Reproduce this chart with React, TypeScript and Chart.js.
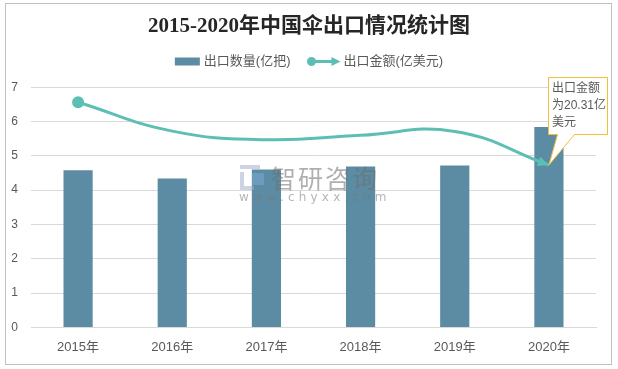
import React, { useEffect, useRef } from 'react';
import { Chart, registerables } from 'chart.js';

Chart.register(...registerables);

const titleText = '2015-2020年中国伞出口情况统计图';
const categories = ['2015年', '2016年', '2017年', '2018年', '2019年', '2020年'];
const quantityLabel = '出口数量(亿把)';
const valueLabel = '出口金额(亿美元)';
const quantity = [4.58, 4.34, 4.6, 4.69, 4.72, 5.84];
const exportValue = [6.56, 5.72, 5.47, 5.6, 5.71, 4.73];
const yMin = 0;
const yMax = 7;
const calloutLines = ['出口金额', '为20.31亿', '美元'];
const watermarkTitle = '智研咨询';
const watermarkUrl = 'www.chyxx.com';

const BAR_COLOR = '#5b8ca4';
const LINE_COLOR = '#5dbfb4';
const TEXT_COLOR = '#595959';
const GRID_COLOR = '#d9d9d9';
const CJK = '"Liberation Sans", "Noto Sans CJK SC", sans-serif';

const framePlugin = {
  id: 'frame',
  beforeDraw(chart: any) {
    const ctx = chart.ctx;
    ctx.save();
    ctx.fillStyle = '#ffffff';
    ctx.fillRect(0, 0, chart.width, chart.height);
    ctx.strokeStyle = '#bfbfbf';
    ctx.lineWidth = 1;
    ctx.strokeRect(5.5, 3.5, 606, 361);
    ctx.restore();
  },
};

const legendPlugin = {
  id: 'customLegend',
  afterDraw(chart: any) {
    const ctx = chart.ctx;
    ctx.save();
    ctx.font = '13px ' + CJK;
    ctx.textBaseline = 'middle';
    ctx.fillStyle = TEXT_COLOR;
    const labels = chart.data.datasets.map((d: any) => d.label);
    const w1 = 25 + 4 + ctx.measureText(labels[0]).width;
    const w2 = 34 + 3 + ctx.measureText(labels[1]).width;
    const gap = 16;
    let x = chart.width / 2 - (w1 + gap + w2) / 2;
    const y = 61.5;
    ctx.fillStyle = BAR_COLOR;
    ctx.fillRect(x, y - 4, 25, 8);
    ctx.fillStyle = TEXT_COLOR;
    ctx.fillText(labels[0], x + 29, y);
    x += w1 + gap;
    ctx.strokeStyle = LINE_COLOR;
    ctx.fillStyle = LINE_COLOR;
    ctx.lineWidth = 3;
    ctx.beginPath();
    ctx.moveTo(x + 5, y);
    ctx.lineTo(x + 27, y);
    ctx.stroke();
    ctx.beginPath();
    ctx.arc(x + 5, y, 4.5, 0, Math.PI * 2);
    ctx.fill();
    ctx.beginPath();
    ctx.moveTo(x + 34, y);
    ctx.lineTo(x + 25, y - 4.5);
    ctx.lineTo(x + 25, y + 4.5);
    ctx.closePath();
    ctx.fill();
    ctx.fillStyle = TEXT_COLOR;
    ctx.fillText(labels[1], x + 37, y);
    ctx.restore();
  },
};

const watermarkPlugin = {
  id: 'watermark',
  afterDatasetsDraw(chart: any) {
    const ctx = chart.ctx;
    ctx.save();
    ctx.fillStyle = 'rgba(160,175,205,0.55)';
    ctx.fillRect(240, 165, 20, 4);
    ctx.fillRect(240, 172, 4, 14);
    ctx.fillRect(240, 186, 14, 4);
    ctx.fillStyle = 'rgba(120,170,215,0.55)';
    ctx.fillRect(252, 173, 12, 12);
    ctx.fillStyle = 'rgba(110,110,110,0.55)';
    ctx.font = '25px "Noto Sans CJK SC", sans-serif';
    ctx.textBaseline = 'middle';
    (ctx as any).letterSpacing = '2px';
    ctx.fillText(watermarkTitle, 271, 178);
    ctx.font = '12px "DejaVu Sans", sans-serif';
    ctx.fillStyle = 'rgba(120,120,120,0.55)';
    (ctx as any).letterSpacing = '4.2px';
    ctx.fillText(watermarkUrl, 239, 198);
    ctx.restore();
  },
};

const calloutPlugin = {
  id: 'callout',
  afterDraw(chart: any) {
    const meta = chart.getDatasetMeta(1);
    const pts = meta.data;
    const last = pts[pts.length - 1];
    const ctx = chart.ctx;
    ctx.save();
    const cpx = last.cp1x !== undefined ? last.cp1x : pts[pts.length - 2].x;
    const cpy = last.cp1y !== undefined ? last.cp1y : pts[pts.length - 2].y;
    let dx = last.x - cpx;
    let dy = last.y - cpy;
    const len = Math.hypot(dx, dy) || 1;
    dx /= len;
    dy /= len;
    const tipX = last.x;
    const tipY = last.y;
    const aL = 11;
    const aW = 5;
    ctx.fillStyle = LINE_COLOR;
    ctx.beginPath();
    ctx.moveTo(tipX, tipY);
    ctx.lineTo(tipX - dx * aL - dy * aW, tipY - dy * aL + dx * aW);
    ctx.lineTo(tipX - dx * aL + dy * aW, tipY - dy * aL - dx * aW);
    ctx.closePath();
    ctx.fill();

    const bx = 548.5;
    const by = 77.5;
    const bw = 59;
    const bh = 57;
    ctx.fillStyle = '#ffffff';
    ctx.strokeStyle = '#f2c037';
    ctx.lineWidth = 1;
    ctx.beginPath();
    ctx.moveTo(bx, by);
    ctx.lineTo(bx + bw, by);
    ctx.lineTo(bx + bw, by + bh);
    ctx.lineTo(bx + 26, by + bh);
    ctx.lineTo(tipX, tipY);
    ctx.lineTo(bx + 9, by + bh);
    ctx.lineTo(bx, by + bh);
    ctx.closePath();
    ctx.fill();
    ctx.stroke();
    ctx.fillStyle = TEXT_COLOR;
    ctx.font = '12px ' + CJK;
    ctx.textBaseline = 'middle';
    calloutLines.forEach((t, i) => {
      ctx.fillText(t, bx + 3.5, by + 11 + i * 17);
    });
    ctx.restore();
  },
};

export default function App() {
  const ref = useRef<HTMLCanvasElement | null>(null);
  useEffect(() => {
    if (!ref.current) return;
    const chart = new Chart(ref.current, {
      type: 'bar',
      data: {
        labels: categories,
        datasets: [
          {
            type: 'bar',
            label: quantityLabel,
            data: quantity,
            backgroundColor: BAR_COLOR,
            barPercentage: 0.31,
            categoryPercentage: 1,
            order: 2,
          },
          {
            type: 'line',
            label: valueLabel,
            data: exportValue,
            borderColor: LINE_COLOR,
            backgroundColor: LINE_COLOR,
            borderWidth: 3,
            tension: 0.45,
            pointRadius: [4.5, 0, 0, 0, 0, 0],
            pointHoverRadius: 0,
            order: 1,
          } as any,
        ],
      },
      options: {
        animation: false,
        responsive: false,
        maintainAspectRatio: false,
        events: [],
        layout: { padding: { left: 0, right: 0, top: 0, bottom: 2 } },
        plugins: {
          legend: { display: false },
          tooltip: { enabled: false },
          title: {
            display: true,
            text: titleText,
            color: '#262626',
            font: { size: 21, weight: 'bold', family: '"Liberation Serif", "Noto Sans CJK SC", serif' },
            padding: { top: 14, bottom: 48 },
          },
        },
        scales: {
          x: {
            offset: true,
            grid: { display: false, drawTicks: false },
            border: { display: true, color: GRID_COLOR },
            ticks: { color: TEXT_COLOR, font: { size: 13, family: CJK }, padding: 12 },
          },
          y: {
            min: yMin,
            max: yMax,
            afterFit: (s: any) => {
              s.width = 31;
            },
            grid: { color: GRID_COLOR, drawTicks: false },
            border: { display: false },
            ticks: { stepSize: 1, color: TEXT_COLOR, font: { size: 12, family: CJK }, padding: 13 },
          },
          yRight: {
            position: 'right',
            min: 0,
            max: 1,
            afterFit: (s: any) => {
              s.width = 22;
            },
            grid: { display: false, drawTicks: false },
            border: { display: false },
            ticks: { display: false },
          },
        },
      },
      plugins: [framePlugin, watermarkPlugin, calloutPlugin, legendPlugin],
    });
    return () => chart.destroy();
  }, []);
  return (
    <div style={{ position: 'fixed', left: 0, top: 0, width: 618, height: 369, background: '#fff' }}>
      <canvas ref={ref} width={618} height={369} style={{ width: 618, height: 369, display: 'block' }} />
    </div>
  );
}
